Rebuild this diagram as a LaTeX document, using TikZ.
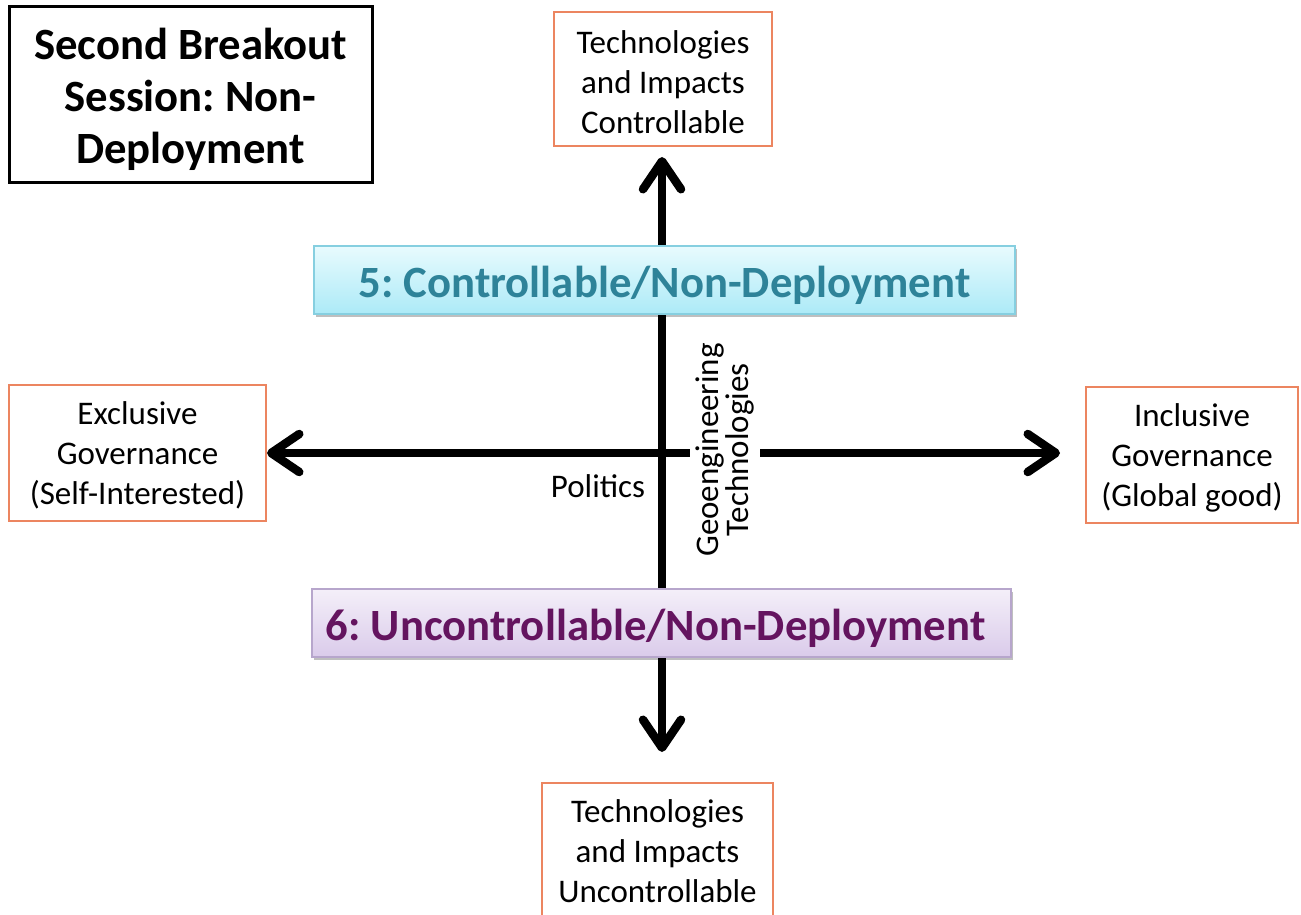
\documentclass[tikz,border=0pt]{standalone}
\usepackage{fontspec}
\setmainfont{Carlito}
\frenchspacing
\usetikzlibrary{arrows.meta,shadows,positioning}
\definecolor{obord}{HTML}{EC8560}
\definecolor{cbord}{HTML}{86CFE0}
\definecolor{ctop}{HTML}{E8FBFE}
\definecolor{cbot}{HTML}{ACEAF7}
\definecolor{ctext}{HTML}{2E8399}
\definecolor{pbord}{HTML}{B7A6CC}
\definecolor{ptop}{HTML}{F4EFF9}
\definecolor{pbot}{HTML}{DACBEA}
\definecolor{ptext}{HTML}{64145F}
\tikzset{
  obox/.style={draw=obord, line width=2pt, fill=white},
  regtext/.style={font=\fontsize{33}{40}\selectfont, align=center, inner sep=0pt},
  boldtext/.style={font=\bfseries\fontsize{44.7}{52}\selectfont, align=center, inner sep=0pt},
  axis/.style={line width=8.5pt, -{Straight Barb[length=28pt,width=38pt,round]}},
  cband/.style={draw=cbord, line width=2pt, top color=ctop, bottom color=cbot,
    drop shadow={shadow xshift=1.5pt, shadow yshift=-2.5pt, opacity=0.25, fill=black}},
  pband/.style={draw=pbord, line width=2pt, top color=ptop, bottom color=pbot,
    drop shadow={shadow xshift=1.5pt, shadow yshift=-2.5pt, opacity=0.25, fill=black}},
}
\begin{document}
\begin{tikzpicture}[x=1pt,y=-1pt]
\clip (0,0) rectangle (1301,915);
\fill[white] (0,0) rectangle (1301,915);

% title
\draw[line width=3pt, fill=white] (9,7) rectangle (372,182);
\node[boldtext] (title) at (190.5,99) {Second Breakout\\Session: Non-\\Deployment};

% outer boxes
\draw[obox] (554,12) rectangle (772,146);
\node[regtext] (top) at (663,82) {Technologies\\and Impacts\\Controllable};
\draw[obox] (9,385) rectangle (266,521);
\node[regtext] (left) at (137.5,455) {Exclusive\\Governance\\(Self-Interested)};
\draw[obox] (1086,387) rectangle (1298,523);
\node[regtext] (right) at (1192,458) {Inclusive\\Governance\\(Global good)};
\draw[obox] (542,783) rectangle (773,940);
\node[regtext] (bottom) at (657.5,851) {Technologies\\and Impacts\\Uncontrollable};

% axes
\coordinate (c) at (662,453);
\coordinate (tl) at (267,453);
\coordinate (tr) at (1060,453);
\coordinate (tu) at (662,157);
\coordinate (td) at (662,752);
\draw[axis] (c) -- (tl);
\draw[axis] (c) -- (tr);
\draw[axis] (c) -- (tu);
\draw[axis] (c) -- (td);

\node[font=\fontsize{33}{28}\selectfont, align=center, fill=white, rotate=90, inner xsep=2pt, inner ysep=6.5pt] (geo) at (725,450) {Geoengineering\\Technologies};
\node[regtext] (pol) at (598,486) {Politics};

% bands
\draw[cband] (314,246) rectangle (1015,314);
\node[boldtext, text=ctext] (five) at (664.5,285) {5: Controllable/Non-Deployment};
\draw[pband] (312,589) rectangle (1011,657);
\node[boldtext, text=ptext] (six) at (655.5,628) {6: Uncontrollable/Non-Deployment};
\end{tikzpicture}
\end{document}
